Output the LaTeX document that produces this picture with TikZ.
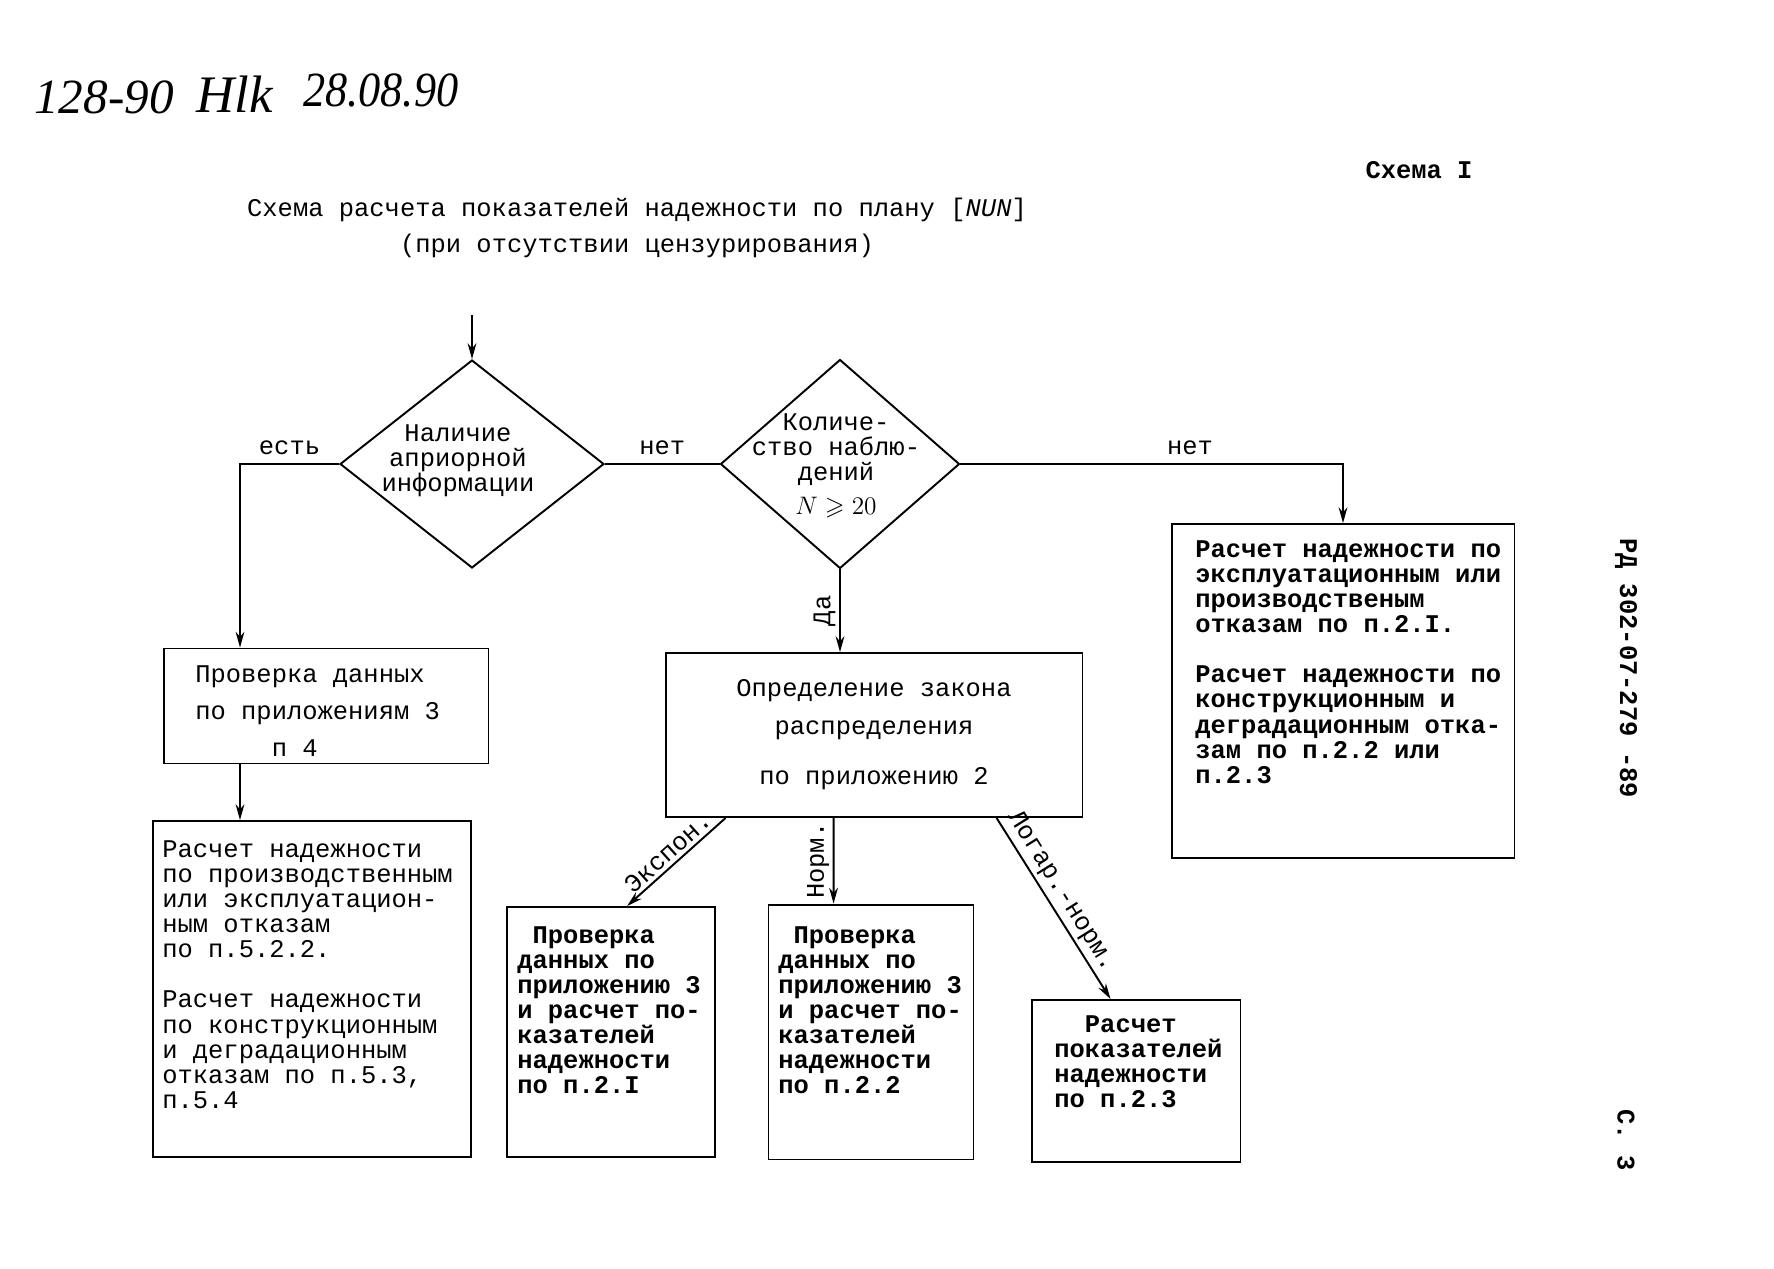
\documentclass[tikz,border=0pt]{standalone}
\usepackage{fontspec}
\usepackage{amsmath,amssymb}
\setmainfont{Liberation Mono}
\newfontfamily\handfont{Liberation Serif}
\usetikzlibrary{shapes.geometric}
\usetikzlibrary{arrows.meta}
\usetikzlibrary{calc}

\tikzset{
  tw/.style={inner sep=0pt, align=left, font=\fontsize{14.5pt}{14.3pt}\selectfont},
  twbold/.style={tw, font=\bfseries\fontsize{14.5pt}{14.3pt}\selectfont},
  box/.style={draw, rectangle, line width=1.1pt, inner sep=0pt},
  dec/.style={draw, diamond, line width=1.1pt, inner sep=0pt},
  flow/.style={-{Stealth[length=9pt, width=5pt]}, line width=1.1pt},
  lbl/.style={inner sep=0pt, font=\fontsize{14.5pt}{14.3pt}\selectfont},
  hand/.style={inner sep=0pt, anchor=base west, font=\handfont\itshape\fontsize{28pt}{28pt}\selectfont}
}

\begin{document}
\begin{tikzpicture}[x=0.02cm, y=-0.02cm]
  \useasboundingbox (0,0) rectangle (1774,1268);

  % ===== Header =====
  \node[hand] (hnum) at (34,113) {128-90};
  \node[hand, font=\handfont\itshape\fontsize{30pt}{30pt}\selectfont] (hsig) at (196,112) {Hlk};
  \node[hand] (hdate) at (303,106) {\scalebox{0.9}[1]{28.08.90}};
  \node[twbold] (schno) at (1419,170) {Схема I};
  \node[tw, align=center, font=\fontsize{14.5pt}{20.5pt}\selectfont] (title) at (637,228)
    {Схема расчета показателей надежности по плану [\textit{NUN}]\\(при отсутствии цензурирования)};

  % ===== Decisions =====
  \node[dec, minimum width=5.28cm, minimum height=4.16cm] (apr) at (472,464) {};
  \node[tw, align=center] (aprtxt) at (458,461) {Наличие\\априорной\\информации};
  \node[dec, minimum width=4.78cm, minimum height=4.18cm] (cnt) at (840,464) {};
  \node[tw, align=center] (cnttxt) at (836,466) {Количе-\\ство наблю-\\дений\\[5pt]$N \geqslant 20$};

  % ===== Boxes =====
  \node[box, minimum width=6.5cm, minimum height=2.3cm] (chk) at (326,706) {};
  \node[tw, anchor=north west, font=\fontsize{14.5pt}{21.3pt}\selectfont] (chktxt) at (195,665)
    {Проверка данных\\по приложениям 3\\\hspace*{3em}п 4};
  \node[box, minimum width=8.34cm, minimum height=3.28cm, align=center,
        font=\fontsize{14.5pt}{21.6pt}\selectfont] (law) at (874,735)
    {Определение закона\\распределения\\[6.8pt]по приложению 2};

  \node[box, minimum width=6.36cm, minimum height=6.72cm] (calcL) at (312,989) {};
  \node[tw, anchor=north west] (calcLtxt) at (162,840)
    {Расчет надежности\\по производственным\\или эксплуатацион-\\ным отказам\\по п.5.2.2.\\[14.3pt]Расчет надежности\\по конструкционным\\и деградационным\\отказам по п.5.3,\\п.5.4};

  \node[box, minimum width=6.86cm, minimum height=6.68cm] (calcR) at (1343,691) {};
  \node[twbold, anchor=north west] (calcRtxt) at (1195,540)
    {Расчет надежности по\\эксплуатационным или\\производственым\\отказам по п.2.I.\\[14.3pt]Расчет надежности по\\конструкционным и\\деградационным отка-\\зам по п.2.2 или\\п.2.3};

  \node[box, minimum width=4.16cm, minimum height=5cm] (expo) at (611,1032) {};
  \node[twbold, anchor=north west] (expotxt) at (517,926)
    {\hspace*{0.6em}Проверка\\данных по\\приложению 3\\и расчет по-\\казателей\\надежности\\по п.2.I};

  \node[box, minimum width=4.1cm, minimum height=5.1cm] (norm) at (871,1032) {};
  \node[twbold, anchor=north west] (normtxt) at (778,926)
    {\hspace*{0.6em}Проверка\\данных по\\приложению 3\\и расчет по-\\казателей\\надежности\\по п.2.2};

  \node[box, minimum width=4.18cm, minimum height=3.24cm] (logn) at (1136,1081) {};
  \node[twbold, anchor=north west] (logntxt) at (1054,1015)
    {\hspace*{1.2em}Расчет\\показателей\\надежности\\по п.2.3};

  % side marks
  \node[twbold, rotate=-90] (docno) at (1626,668) {РД 302-07-279 -89};
  \node[twbold, rotate=-90] (pgno) at (1626,1140) {С. 3};

  % ===== Connectors =====
  \coordinate (start) at (472,315);
  \coordinate (leftrail) at (240,0);
  \draw[flow] (start) -- (apr.north);
  \draw[flow] (apr.west) -| node[lbl, pos=0.25, above=5pt] (yes1) {есть} (chk.north -| leftrail);
  \draw[flow] (chk.south -| leftrail) -- (calcL.north -| leftrail);
  \draw[line width=1.1pt] (apr.east) -- node[lbl, above=5pt] (no1) {нет} (cnt.west);
  \draw[flow] (cnt.south) -- node[lbl, rotate=90, anchor=south, inner sep=2pt] (yes2) {Да} (cnt.south |- law.north);
  \draw[flow] (cnt.east) -| node[lbl, pos=0.3, above=5pt] (no2) {нет} (calcR.north);
  \draw[flow] ($(law.south west)+(61,0)$) -- node[lbl, rotate=42, anchor=south, inner sep=2pt] (exlbl) {Экспон.} ($(expo.north west)+(121,0)$);
  \draw[flow] ($(law.south west)+(169,0)$) -- node[lbl, rotate=90, anchor=south, inner sep=2pt] (nmlbl) {Норм.} ($(norm.north west)+(66,0)$);
  \draw[flow] ($(law.south west)+(332,0)$) -- node[lbl, pos=0.45, rotate=-58, anchor=south, inner sep=2pt] (lnlbl) {Логар.-норм.} ($(logn.north west)+(80,0)$);
\end{tikzpicture}
\end{document}
